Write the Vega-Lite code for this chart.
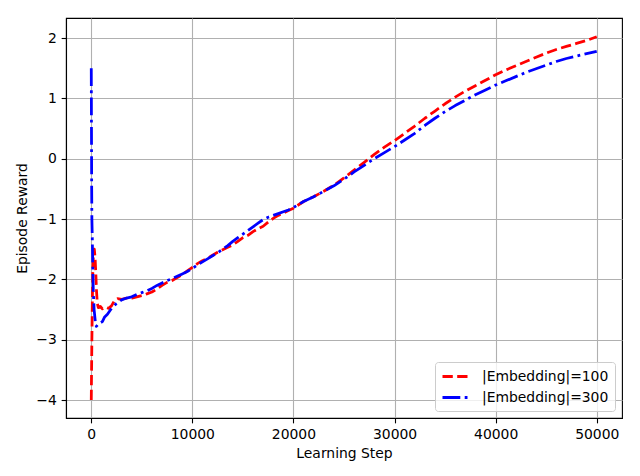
{
  "$schema": "https://vega.github.io/schema/vega-lite/v6.json",
  "width": 556,
  "height": 400,
  "autosize": {"type": "none"},
  "padding": {"left": 66, "top": 18, "right": 18, "bottom": 58},
  "background": "white",
  "config": {
    "font": "DejaVu Sans",
    "view": {"stroke": "black", "strokeWidth": 1.1},
    "axis": {
      "labelFont": "DejaVu Sans",
      "labelFontSize": 13.9,
      "labelColor": "black",
      "titleFont": "DejaVu Sans",
      "titleFontSize": 13.9,
      "titleFontWeight": "normal",
      "titleColor": "black",
      "tickColor": "black",
      "tickSize": 4.86,
      "tickWidth": 1.1,
      "labelPadding": 4.86,
      "domainColor": "black",
      "domainWidth": 1.1,
      "gridColor": "#b0b0b0",
      "gridWidth": 1.1,
      "gridOpacity": 1,
      "labelOverlap": false,
      "labelFlush": false
    },
    "legend": {
      "orient": "bottom-right",
      "offset": 7,
      "padding": 6,
      "fillColor": "rgba(255,255,255,0.8)",
      "strokeColor": "#cccccc",
      "cornerRadius": 3,
      "rowPadding": 5,
      "labelFont": "DejaVu Sans",
      "labelFontSize": 13.9,
      "labelColor": "black",
      "labelOffset": 24,
      "symbolType": "M-1,0H3",
      "symbolSize": 196,
      "symbolStrokeWidth": 2.78
    }
  },
  "data": {
    "values": [
      {"s": "|Embedding|=100", "x": 0, "y": -4.0},
      {"s": "|Embedding|=100", "x": 30, "y": -3.5},
      {"s": "|Embedding|=100", "x": 60, "y": -3.0},
      {"s": "|Embedding|=100", "x": 90, "y": -2.6},
      {"s": "|Embedding|=100", "x": 120, "y": -2.2},
      {"s": "|Embedding|=100", "x": 160, "y": -1.8},
      {"s": "|Embedding|=100", "x": 220, "y": -1.55},
      {"s": "|Embedding|=100", "x": 300, "y": -1.5},
      {"s": "|Embedding|=100", "x": 380, "y": -1.65},
      {"s": "|Embedding|=100", "x": 450, "y": -1.9},
      {"s": "|Embedding|=100", "x": 520, "y": -2.2},
      {"s": "|Embedding|=100", "x": 600, "y": -2.4},
      {"s": "|Embedding|=100", "x": 700, "y": -2.47},
      {"s": "|Embedding|=100", "x": 900, "y": -2.45},
      {"s": "|Embedding|=100", "x": 1100, "y": -2.49},
      {"s": "|Embedding|=100", "x": 1400, "y": -2.46},
      {"s": "|Embedding|=100", "x": 1700, "y": -2.48},
      {"s": "|Embedding|=100", "x": 2000, "y": -2.44},
      {"s": "|Embedding|=100", "x": 2300, "y": -2.35},
      {"s": "|Embedding|=100", "x": 2600, "y": -2.32},
      {"s": "|Embedding|=100", "x": 3000, "y": -2.33},
      {"s": "|Embedding|=100", "x": 3500, "y": -2.31},
      {"s": "|Embedding|=100", "x": 4000, "y": -2.31},
      {"s": "|Embedding|=100", "x": 4500, "y": -2.29},
      {"s": "|Embedding|=100", "x": 5000, "y": -2.27},
      {"s": "|Embedding|=100", "x": 5500, "y": -2.24},
      {"s": "|Embedding|=100", "x": 6000, "y": -2.21},
      {"s": "|Embedding|=100", "x": 6500, "y": -2.16},
      {"s": "|Embedding|=100", "x": 7000, "y": -2.10},
      {"s": "|Embedding|=100", "x": 7500, "y": -2.05},
      {"s": "|Embedding|=100", "x": 8000, "y": -2.02},
      {"s": "|Embedding|=100", "x": 8500, "y": -1.97},
      {"s": "|Embedding|=100", "x": 9000, "y": -1.92},
      {"s": "|Embedding|=100", "x": 9500, "y": -1.86},
      {"s": "|Embedding|=100", "x": 10000, "y": -1.80},
      {"s": "|Embedding|=100", "x": 10500, "y": -1.74},
      {"s": "|Embedding|=100", "x": 11000, "y": -1.69},
      {"s": "|Embedding|=100", "x": 11500, "y": -1.65},
      {"s": "|Embedding|=100", "x": 12000, "y": -1.60},
      {"s": "|Embedding|=100", "x": 12500, "y": -1.55},
      {"s": "|Embedding|=100", "x": 13000, "y": -1.51},
      {"s": "|Embedding|=100", "x": 13500, "y": -1.47},
      {"s": "|Embedding|=100", "x": 14000, "y": -1.43},
      {"s": "|Embedding|=100", "x": 14500, "y": -1.37},
      {"s": "|Embedding|=100", "x": 15000, "y": -1.31},
      {"s": "|Embedding|=100", "x": 15500, "y": -1.27},
      {"s": "|Embedding|=100", "x": 16000, "y": -1.21},
      {"s": "|Embedding|=100", "x": 16500, "y": -1.16},
      {"s": "|Embedding|=100", "x": 17000, "y": -1.12},
      {"s": "|Embedding|=100", "x": 17500, "y": -1.05},
      {"s": "|Embedding|=100", "x": 18000, "y": -0.99},
      {"s": "|Embedding|=100", "x": 18500, "y": -0.94},
      {"s": "|Embedding|=100", "x": 19000, "y": -0.90},
      {"s": "|Embedding|=100", "x": 19500, "y": -0.86},
      {"s": "|Embedding|=100", "x": 20000, "y": -0.82},
      {"s": "|Embedding|=100", "x": 21000, "y": -0.71},
      {"s": "|Embedding|=100", "x": 22000, "y": -0.63},
      {"s": "|Embedding|=100", "x": 23000, "y": -0.54},
      {"s": "|Embedding|=100", "x": 24000, "y": -0.44},
      {"s": "|Embedding|=100", "x": 25000, "y": -0.32},
      {"s": "|Embedding|=100", "x": 26000, "y": -0.19},
      {"s": "|Embedding|=100", "x": 27000, "y": -0.06},
      {"s": "|Embedding|=100", "x": 28000, "y": 0.07},
      {"s": "|Embedding|=100", "x": 29000, "y": 0.19},
      {"s": "|Embedding|=100", "x": 30000, "y": 0.30},
      {"s": "|Embedding|=100", "x": 31000, "y": 0.42},
      {"s": "|Embedding|=100", "x": 32000, "y": 0.54},
      {"s": "|Embedding|=100", "x": 33000, "y": 0.67},
      {"s": "|Embedding|=100", "x": 34000, "y": 0.79},
      {"s": "|Embedding|=100", "x": 35000, "y": 0.91},
      {"s": "|Embedding|=100", "x": 36000, "y": 1.02},
      {"s": "|Embedding|=100", "x": 37000, "y": 1.12},
      {"s": "|Embedding|=100", "x": 38000, "y": 1.21},
      {"s": "|Embedding|=100", "x": 39000, "y": 1.30},
      {"s": "|Embedding|=100", "x": 40000, "y": 1.39},
      {"s": "|Embedding|=100", "x": 41000, "y": 1.47},
      {"s": "|Embedding|=100", "x": 42000, "y": 1.54},
      {"s": "|Embedding|=100", "x": 43000, "y": 1.61},
      {"s": "|Embedding|=100", "x": 44000, "y": 1.68},
      {"s": "|Embedding|=100", "x": 45000, "y": 1.75},
      {"s": "|Embedding|=100", "x": 46000, "y": 1.81},
      {"s": "|Embedding|=100", "x": 47000, "y": 1.86},
      {"s": "|Embedding|=100", "x": 48000, "y": 1.91},
      {"s": "|Embedding|=100", "x": 49000, "y": 1.96},
      {"s": "|Embedding|=100", "x": 50000, "y": 2.02},
      {"s": "|Embedding|=300", "x": 0, "y": 1.5},
      {"s": "|Embedding|=300", "x": 10, "y": 1.0},
      {"s": "|Embedding|=300", "x": 20, "y": 0.5},
      {"s": "|Embedding|=300", "x": 30, "y": 0.0},
      {"s": "|Embedding|=300", "x": 40, "y": -0.5},
      {"s": "|Embedding|=300", "x": 60, "y": -1.0},
      {"s": "|Embedding|=300", "x": 100, "y": -1.3},
      {"s": "|Embedding|=300", "x": 150, "y": -1.8},
      {"s": "|Embedding|=300", "x": 200, "y": -2.2},
      {"s": "|Embedding|=300", "x": 280, "y": -2.5},
      {"s": "|Embedding|=300", "x": 400, "y": -2.7},
      {"s": "|Embedding|=300", "x": 500, "y": -2.78},
      {"s": "|Embedding|=300", "x": 700, "y": -2.74},
      {"s": "|Embedding|=300", "x": 900, "y": -2.72},
      {"s": "|Embedding|=300", "x": 1100, "y": -2.70},
      {"s": "|Embedding|=300", "x": 1300, "y": -2.63},
      {"s": "|Embedding|=300", "x": 1600, "y": -2.58},
      {"s": "|Embedding|=300", "x": 2000, "y": -2.48},
      {"s": "|Embedding|=300", "x": 2500, "y": -2.40},
      {"s": "|Embedding|=300", "x": 3000, "y": -2.34},
      {"s": "|Embedding|=300", "x": 3500, "y": -2.31},
      {"s": "|Embedding|=300", "x": 4000, "y": -2.29},
      {"s": "|Embedding|=300", "x": 4500, "y": -2.25},
      {"s": "|Embedding|=300", "x": 5000, "y": -2.22},
      {"s": "|Embedding|=300", "x": 5500, "y": -2.19},
      {"s": "|Embedding|=300", "x": 6000, "y": -2.15},
      {"s": "|Embedding|=300", "x": 6500, "y": -2.10},
      {"s": "|Embedding|=300", "x": 7000, "y": -2.06},
      {"s": "|Embedding|=300", "x": 7500, "y": -2.02},
      {"s": "|Embedding|=300", "x": 8000, "y": -1.99},
      {"s": "|Embedding|=300", "x": 8500, "y": -1.95},
      {"s": "|Embedding|=300", "x": 9000, "y": -1.91},
      {"s": "|Embedding|=300", "x": 9500, "y": -1.87},
      {"s": "|Embedding|=300", "x": 10000, "y": -1.82},
      {"s": "|Embedding|=300", "x": 10500, "y": -1.76},
      {"s": "|Embedding|=300", "x": 11000, "y": -1.71},
      {"s": "|Embedding|=300", "x": 11500, "y": -1.66},
      {"s": "|Embedding|=300", "x": 12000, "y": -1.61},
      {"s": "|Embedding|=300", "x": 12500, "y": -1.56},
      {"s": "|Embedding|=300", "x": 13000, "y": -1.50},
      {"s": "|Embedding|=300", "x": 13500, "y": -1.44},
      {"s": "|Embedding|=300", "x": 14000, "y": -1.37},
      {"s": "|Embedding|=300", "x": 14500, "y": -1.31},
      {"s": "|Embedding|=300", "x": 15000, "y": -1.25},
      {"s": "|Embedding|=300", "x": 15500, "y": -1.19},
      {"s": "|Embedding|=300", "x": 16000, "y": -1.13},
      {"s": "|Embedding|=300", "x": 16500, "y": -1.07},
      {"s": "|Embedding|=300", "x": 17000, "y": -1.01},
      {"s": "|Embedding|=300", "x": 17500, "y": -0.97},
      {"s": "|Embedding|=300", "x": 18000, "y": -0.94},
      {"s": "|Embedding|=300", "x": 18500, "y": -0.91},
      {"s": "|Embedding|=300", "x": 19000, "y": -0.88},
      {"s": "|Embedding|=300", "x": 19500, "y": -0.85},
      {"s": "|Embedding|=300", "x": 20000, "y": -0.81},
      {"s": "|Embedding|=300", "x": 21000, "y": -0.71},
      {"s": "|Embedding|=300", "x": 22000, "y": -0.63},
      {"s": "|Embedding|=300", "x": 23000, "y": -0.54},
      {"s": "|Embedding|=300", "x": 24000, "y": -0.45},
      {"s": "|Embedding|=300", "x": 25000, "y": -0.34},
      {"s": "|Embedding|=300", "x": 26000, "y": -0.22},
      {"s": "|Embedding|=300", "x": 27000, "y": -0.11},
      {"s": "|Embedding|=300", "x": 28000, "y": 0.00},
      {"s": "|Embedding|=300", "x": 29000, "y": 0.10},
      {"s": "|Embedding|=300", "x": 30000, "y": 0.20},
      {"s": "|Embedding|=300", "x": 31000, "y": 0.31},
      {"s": "|Embedding|=300", "x": 32000, "y": 0.42},
      {"s": "|Embedding|=300", "x": 33000, "y": 0.55},
      {"s": "|Embedding|=300", "x": 34000, "y": 0.67},
      {"s": "|Embedding|=300", "x": 35000, "y": 0.78},
      {"s": "|Embedding|=300", "x": 36000, "y": 0.88},
      {"s": "|Embedding|=300", "x": 37000, "y": 0.97},
      {"s": "|Embedding|=300", "x": 38000, "y": 1.06},
      {"s": "|Embedding|=300", "x": 39000, "y": 1.14},
      {"s": "|Embedding|=300", "x": 40000, "y": 1.22},
      {"s": "|Embedding|=300", "x": 41000, "y": 1.29},
      {"s": "|Embedding|=300", "x": 42000, "y": 1.36},
      {"s": "|Embedding|=300", "x": 43000, "y": 1.43},
      {"s": "|Embedding|=300", "x": 44000, "y": 1.49},
      {"s": "|Embedding|=300", "x": 45000, "y": 1.55},
      {"s": "|Embedding|=300", "x": 46000, "y": 1.61},
      {"s": "|Embedding|=300", "x": 47000, "y": 1.66},
      {"s": "|Embedding|=300", "x": 48000, "y": 1.70},
      {"s": "|Embedding|=300", "x": 49000, "y": 1.74},
      {"s": "|Embedding|=300", "x": 50000, "y": 1.78}
    ]
  },
  "mark": {"type": "line", "strokeWidth": 2.78, "strokeCap": "butt", "strokeJoin": "round", "clip": true},
  "encoding": {
    "x": {
      "field": "x",
      "type": "quantitative",
      "title": "Learning Step",
      "scale": {"domain": [-2500, 52500], "nice": false, "zero": false},
      "axis": {"values": [0, 10000, 20000, 30000, 40000, 50000], "format": "d", "titlePadding": 5}
    },
    "y": {
      "field": "y",
      "type": "quantitative",
      "title": "Episode Reward",
      "scale": {"domain": [-4.298, 2.3315], "nice": false, "zero": false},
      "axis": {"values": [-4, -3, -2, -1, 0, 1, 2], "format": "d", "labelExpr": "replace(datum.label, '-', '\u2212')", "titlePadding": 6}
    },
    "color": {
      "field": "s",
      "type": "nominal",
      "title": null,
      "scale": {"domain": ["|Embedding|=100", "|Embedding|=300"], "range": ["#ff0000", "#0000ff"]}
    },
    "strokeDash": {
      "field": "s",
      "type": "nominal",
      "title": null,
      "scale": {"domain": ["|Embedding|=100", "|Embedding|=300"], "range": [[10.3, 4.4], [17.8, 4.4, 2.8, 4.4]]}
    }
  }
}
